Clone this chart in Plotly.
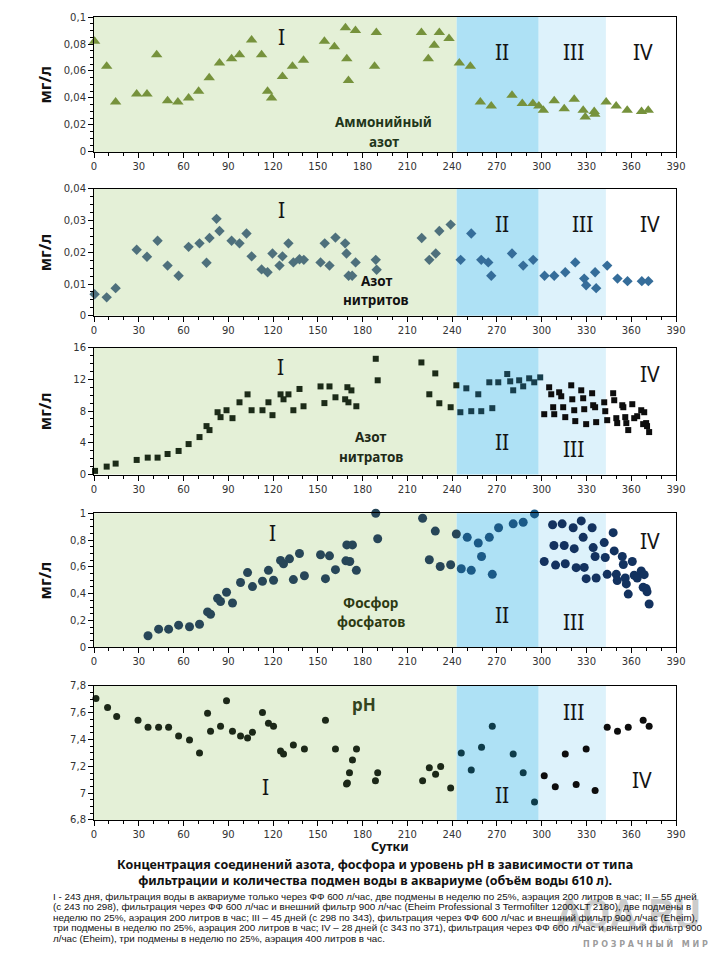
import plotly.graph_objects as go

# ---------------- data ----------------
NH4_DAYS = [0.4, 8.5, 14.5, 28.6, 35.5, 42, 49.3, 56.2, 63.4, 70.1, 77.2, 84.1, 92.2, 97.5, 105.6, 112.3, 116.3, 119,
            126.3, 133, 140.4, 154.4, 161.1, 168.5, 169.4, 170.5, 175.2, 188, 189.2, 219.4, 224, 228, 231.4, 237.9,
            244.8, 252.2, 258.9, 266.2, 280.1, 287, 294.1, 298.1, 301.1, 308.4, 315.1, 321.8, 327.8, 329.2, 335.2,
            335.6, 343.2, 349.9, 357.3, 366.9, 371.4]
NH4_VALS = [0.082, 0.0635, 0.037, 0.043, 0.043, 0.072, 0.038, 0.037, 0.040, 0.045, 0.055, 0.066, 0.069, 0.072, 0.083,
            0.072, 0.045, 0.040, 0.056, 0.0635, 0.068, 0.082, 0.078, 0.092, 0.069, 0.053, 0.090, 0.0635, 0.0885,
            0.0885, 0.069, 0.079, 0.0885, 0.084, 0.066, 0.0635, 0.037, 0.034, 0.042, 0.036, 0.036, 0.034, 0.031,
            0.038, 0.032, 0.039, 0.031, 0.026, 0.030, 0.028, 0.037, 0.034, 0.031, 0.030, 0.031]

NO2_DAYS = [0.4, 8.5, 14.5, 28.6, 35.5, 42.6, 49.3, 56.7, 63.4, 70.7, 75.4, 77.4, 82.1, 84.1, 92.2, 97.5, 102.2, 105.6,
            112.3, 116.3, 119.6, 124.3, 126.3, 130.3, 133.6, 137.7, 140.6, 151.8, 154.6, 157.8, 161.8, 168.3, 169.2,
            170.6, 173.0, 175.3, 188.8, 189.4, 219.6, 224.7, 229, 231.4, 239, 245.7, 252.8, 259.5, 264.2, 266.2,
            280.1, 287.6, 294.3, 301.9, 308.4, 315.8, 322.5, 328.5, 329.8, 335.8, 336.5, 343.9, 350.8, 357.5, 367.1,
            371.5]
NO2_VALS = [0.0068, 0.0058, 0.0087, 0.0208, 0.0186, 0.0236, 0.0158, 0.0126, 0.0217, 0.0228, 0.0167, 0.0245, 0.0305,
            0.0267, 0.0236, 0.0228, 0.0259, 0.0187, 0.0146, 0.0137, 0.0196, 0.0158, 0.0187, 0.0228, 0.0168, 0.0178,
            0.0176, 0.0168, 0.0228, 0.0158, 0.0246, 0.0228, 0.0196, 0.0126, 0.0126, 0.0168, 0.0176, 0.0145, 0.0245,
            0.0176, 0.0196, 0.0267, 0.0287, 0.0176, 0.0259, 0.0176, 0.0168, 0.0126, 0.0196, 0.0158, 0.0176, 0.0126,
            0.0126, 0.0137, 0.0168, 0.0117, 0.0096, 0.0137, 0.0087, 0.0158, 0.0117, 0.0109, 0.0109, 0.0109]

NO3_DAYS = [0.7, 8.5, 14.5, 28.6, 36, 42.6, 49.3, 56.7, 63.4, 70.7, 75.4, 77.4, 82.8, 84.8, 88.8, 92.8, 97.5, 102.9,
            105.6, 112.9, 116.9, 119.6, 125, 127, 130.3, 133.6, 137.7, 140.4, 151.8, 154.4, 157.8, 161.8, 168.3,
            169.8, 170.5, 172.5, 175.8, 188.8, 190.1, 219.4, 224.7, 228.7, 231.4, 239, 242.8, 245.5, 249.5, 252.8,
            257.5, 259.5, 264.9, 266.9, 270.9, 276.9, 278.9, 280.9, 284.9, 287.6, 291.6, 295, 299, 301.7, 305, 306.4,
            307.7, 308.4, 311.7, 313.1, 314.4, 315.8, 319.8, 320.5, 321.8, 322.5, 326.5, 327.8, 328.5, 329.8, 333.8,
            334.5, 335.8, 336.5, 341.9, 342.6, 343.9, 347.9, 348.6, 350, 350.6, 354, 354.7, 356, 356.7, 358, 360.7,
            362, 364, 366.7, 368, 368.7, 370, 370.6, 372]
NO3_VALS = [0.46, 1.0, 1.38, 1.84, 2.13, 2.13, 2.59, 2.97, 3.84, 4.72, 6.1, 5.6, 7.85, 7.23, 8.1, 7.1, 9.1, 10.1, 8.1,
            8.1, 9.1, 7.48, 10.1, 9.48, 10.1, 8.1, 10.78, 8.6, 11.1, 9.0, 11.1, 9.73, 9.48, 11.0, 9.1, 10.6, 8.6,
            14.58, 11.87, 14.12, 10.11, 12.74, 8.98, 8.48, 11.24, 7.85, 10.86, 7.98, 10.11, 7.98, 11.62, 8.36, 11.62,
            12.66, 11.74, 10.61, 11.87, 11.11, 12.12, 11.62, 12.24, 7.6, 10.99, 10.11, 8.48, 7.6, 10.36, 9.86, 8.48,
            7.23, 11.24, 9.48, 8.1, 6.73, 10.61, 9.61, 8.23, 6.35, 10.24, 8.73, 8.48, 6.6, 9.1, 7.98, 6.85, 10.24,
            9.36, 7.1, 6.48, 8.73, 8.48, 7.23, 6.48, 5.6, 8.86, 7.1, 7.35, 8.1, 6.35, 7.85, 6.48, 6.1, 5.35]

PO4_DAYS = [36.2, 43.3, 50, 56.7, 64, 70.7, 76.1, 78.1, 82.8, 84.8, 88.8, 92.8, 98.2, 102.9, 106.2, 112.9, 116.9,
            120.3, 125, 127, 131, 133.6, 137.7, 141, 151.8, 155.1, 157.8, 161.8, 168.8, 169.4, 171.4, 173.2, 175.8,
            188.8, 190.1, 220.2, 224.7, 228.7, 232, 239, 242.8, 246.1, 250.1, 252.8, 257.5, 259.7, 264.9, 266.9,
            271.1, 280.9, 287.6, 295.2, 301.7, 307.3, 308.2, 309.3, 313.7, 315.1, 315.8, 321.1, 321.8, 323.1, 326.5,
            327.8, 328.5, 329.8, 333.8, 334.5, 335.8, 336.5, 341.9, 342.6, 343.9, 347.9, 348.6, 350, 350.6, 354,
            354.7, 356, 356.7, 358, 360.7, 362, 364, 366.7, 368, 368.7, 370, 370.6, 372]
PO4_VALS = [0.086, 0.135, 0.135, 0.165, 0.153, 0.172, 0.264, 0.246, 0.365, 0.342, 0.411, 0.33, 0.483, 0.557, 0.453,
            0.493, 0.574, 0.5, 0.648, 0.623, 0.66, 0.505, 0.70, 0.534, 0.69, 0.512, 0.682, 0.579, 0.645, 0.764, 0.64,
            0.764, 0.574, 1.0, 0.81, 0.963, 0.653, 0.867, 0.603, 0.616, 0.845, 0.586, 0.82, 0.574, 0.778, 0.677,
            0.82, 0.544, 0.892, 0.921, 0.933, 0.995, 0.64, 0.914, 0.759, 0.613, 0.921, 0.759, 0.623, 0.892, 0.736,
            0.594, 0.943, 0.82, 0.596, 0.512, 0.892, 0.744, 0.677, 0.517, 0.781, 0.67, 0.544, 0.855, 0.719, 0.544,
            0.498, 0.677, 0.618, 0.517, 0.473, 0.397, 0.64, 0.537, 0.517, 0.569, 0.448, 0.542, 0.438, 0.414, 0.323]

PH_DAYS = [1.3, 9.1, 15.2, 29.5, 36.2, 43.3, 50, 56.7, 64, 70.7, 76.1, 78.1, 84.8, 88.8, 92.8, 98.2, 102.9, 106.2,
           112.9, 116.9, 120.3, 125, 127, 133.6, 141, 155.1, 161.8, 169.2, 169.8, 171.2, 173.2, 175.9, 188.6, 190.1,
           220.2, 224.7, 228.9, 232.3, 239, 246.1, 252.8, 259.7, 266.9, 280.9, 287.6, 295.2, 301.7, 309.1, 315.8,
           323.1, 329.8, 335.8, 343.9, 350.8, 358, 368, 372]
PH_VALS = [7.706, 7.64, 7.573, 7.544, 7.492, 7.492, 7.492, 7.426, 7.396, 7.3, 7.596, 7.463, 7.5, 7.69, 7.463, 7.426,
           7.411, 7.455, 7.603, 7.522, 7.5, 7.315, 7.293, 7.36, 7.33, 7.544, 7.33, 7.068, 7.076, 7.152, 7.248, 7.33,
           7.093, 7.152, 7.093, 7.189, 7.142, 7.2, 7.039, 7.3, 7.174, 7.342, 7.5, 7.293, 7.152, 6.935, 7.13, 7.049,
           7.293, 7.064, 7.33, 7.02, 7.492, 7.463, 7.492, 7.544, 7.5]

PERIOD_STARTS = [0, 243, 298, 343]        # I, II, III, IV
PERIOD_END = 390
PERIOD_NAMES = ["I", "II", "III", "IV"]
X_TICKS = list(range(0, 391, 30))

# roman numeral positions (day, value) per panel
ROMAN_POS = [
    [(125.4, 0.085), (273.6, 0.074), (321.5, 0.074), (367.7, 0.074)],
    [(125.4, 0.0332), (273.6, 0.0288), (327.1, 0.0288), (372.9, 0.0288)],
    [(125.2, 13.5), (273.6, 4.1), (321.6, 3.26), (372.9, 12.7)],
    [(119.6, 0.852), (273.6, 0.241), (321.6, 0.192), (372.9, 0.796)],
    [(115.2, 7.046), (273.6, 6.985), (321.6, 7.605), (367.3, 7.096)],
]
# series name labels: (text, day, value)
NAME_LABELS = [
    [("Аммонийный", 194.3, 0.022), ("азот", 194.3, 0.0074)],
    [("Азот", 189.5, 0.0111), ("нитритов", 189.2, 0.005)],
    [("Азот", 185.4, 4.72), ("нитратов", 185.4, 2.21)],
    [("Фосфор", 185.4, 0.333), ("фосфатов", 185.4, 0.187)],
    [("pH", 180.9, 7.662)],
]

# ---------------- style ----------------
BG = ["#E4F0D7", "#AEE1F5", "#DDF2FB", "rgba(0,0,0,0)"]
PANELS = [
    dict(d=NH4_DAYS, v=NH4_VALS, sym="triangle-up", size=10, cols=["#76923C", "#76923C", "#76923C"],
         rng=[0, 0.1], dt=0.02, mdt=0.005),
    dict(d=NO2_DAYS, v=NO2_VALS, sym="diamond", size=8, cols=["#4E707C", "#356D9A", "#356D9A"],
         rng=[0, 0.04], dt=0.01, mdt=0.0025),
    dict(d=NO3_DAYS, v=NO3_VALS, sym="square", size=6, cols=["#1C2B18", "#173E4C", "#0D0D0D"],
         rng=[0, 16], dt=4, mdt=1),
    dict(d=PO4_DAYS, v=PO4_VALS, sym="circle", size=9, cols=["#274658", "#1B5A87", "#13325F"],
         rng=[0, 1], dt=0.2, mdt=0.05),
    dict(d=PH_DAYS, v=PH_VALS, sym="circle", size=7, cols=["#1C2818", "#0E3C4A", "#0D0D0D"],
         rng=[6.8, 7.8], dt=0.2, mdt=0.05),
]
DOMAINS = [(0.8319, 1.0), (0.6279, 0.7862), (0.4302, 0.5884), (0.2151, 0.3820), (0.0, 0.1669)]
LABEL_COLORS = ["#22361A", "#111111", "#1E2A18", "#2D3A12", "#33431E"]

TICKFONT = dict(family="DejaVu Sans", size=10, color="#333333")


def period_of(day):
    if day < 243:
        return 0
    if day < 300:
        return 1
    return 2


def py(pix):
    """page pixel row -> paper y (plot area spans rows 11..820)"""
    return (820 - pix) / 809


def px(pix):
    """page pixel column -> paper x (plot area spans columns 94..676)"""
    return (pix - 94) / 582


fig = go.Figure()
layout = {}
shapes = []
annotations = []

# watermark (drawn first so that the caption text sits on top of it)
annotations.append(dict(x=px(703), y=py(915), xref="paper", yref="paper", text="<b>AQA.RU</b>",
                        xanchor="right", yanchor="middle", showarrow=False,
                        font=dict(family="Roboto", size=40, color="rgba(120,120,120,0.4)")))
annotations.append(dict(x=px(710), y=py(944), xref="paper", yref="paper",
                        text="<b>П Р О З Р А Ч Н Ы Й   М И Р</b>", xanchor="right", yanchor="middle",
                        showarrow=False, font=dict(family="DejaVu Sans", size=8, color="rgba(130,130,130,0.8)")))

for i, p in enumerate(PANELS, start=1):
    xs = "x" if i == 1 else f"x{i}"
    ys = "y" if i == 1 else f"y{i}"
    for k in range(3):
        dd = [d for d in p["d"] if period_of(d) == k]
        vv = [v for d, v in zip(p["d"], p["v"]) if period_of(d) == k]
        fig.add_trace(go.Scatter(x=dd, y=vv, mode="markers", xaxis=xs, yaxis=ys, showlegend=False,
                                 cliponaxis=False,
                                 marker=dict(symbol=p["sym"], size=p["size"], color=p["cols"][k],
                                             line=dict(width=0))))
    xname = "xaxis" if i == 1 else f"xaxis{i}"
    yname = "yaxis" if i == 1 else f"yaxis{i}"
    layout[xname] = dict(domain=[0, 1], anchor=ys, range=[0, 390], tickvals=X_TICKS,
                         ticks="outside", ticklen=5, tickcolor="black", showline=True, linecolor="black",
                         linewidth=1, mirror=True, showgrid=False, zeroline=False, tickfont=TICKFONT,
                         minor=dict(dtick=10, tick0=0, ticks="outside", ticklen=3, tickcolor="black"))
    layout[yname] = dict(domain=list(DOMAINS[i - 1]), anchor=xs, range=p["rng"], dtick=p["dt"], tick0=p["rng"][0],
                         ticks="outside", ticklen=5, tickcolor="black", showline=True, linecolor="black",
                         linewidth=1, mirror=True, showgrid=False, zeroline=False, tickfont=TICKFONT,
                         minor=dict(dtick=p["mdt"], ticks="outside", ticklen=3, tickcolor="black"))
    bounds = PERIOD_STARTS + [PERIOD_END]
    for k in range(4):
        shapes.append(dict(type="rect", xref=xs, yref=f"{ys} domain", x0=bounds[k], x1=bounds[k + 1], y0=0, y1=1,
                           fillcolor=BG[k], line=dict(width=0), layer="below"))
    for k, (dx, dy) in enumerate(ROMAN_POS[i - 1]):
        annotations.append(dict(x=dx, y=dy, xref=xs, yref=ys, text=PERIOD_NAMES[k], showarrow=False,
                                font=dict(family="Noto Sans", size=21, color="#141414")))
    for txt, lx, ly in NAME_LABELS[i - 1]:
        annotations.append(dict(x=lx, y=ly, xref=xs, yref=ys, text=f"<b>{txt}</b>", showarrow=False,
                                font=dict(family="Noto Sans", size=17 if i == 5 else 13.5,
                                          color=LABEL_COLORS[i - 1])))
    if i < 5:
        annotations.append(dict(x=-0.084, y=(DOMAINS[i - 1][0] + DOMAINS[i - 1][1]) / 2, xref="paper",
                                yref="paper", text="<b>мг/л</b>", textangle=-90, showarrow=False,
                                xanchor="center", yanchor="middle",
                                font=dict(family="Noto Sans", size=16, color="#111111")))

annotations.append(dict(x=px(390), y=py(847), xref="paper", yref="paper", text="<b>Сутки</b>", showarrow=False,
                        xanchor="center", yanchor="middle", borderpad=0,
                        font=dict(family="Noto Sans", size=12.5, color="#111111")))
TITLE_LINES = ["Концентрация соединений азота, фосфора и уровень pH в зависимости от типа",
               "фильтрации и количества подмен воды в аквариуме (объём воды 610 л)."]
annotations.append(dict(x=px(375), y=py(855), xref="paper", yref="paper",
                        text="<b>" + "<br>".join(TITLE_LINES) + "</b>", xanchor="center", yanchor="top",
                        borderpad=0, showarrow=False, font=dict(family="Noto Sans", size=12.5, color="#111111")))

CAPTION = [
    "I - 243 дня, фильтрация воды в аквариуме только через ФФ 600 л/час, две подмены в неделю по 25%, аэрация 200 литров в час; II – 55 дней",
    "(с 243 по 298), фильтрация через ФФ 600 л/час и внешний фильтр 900 л/час (Eheim Professional 3 Termofilter 1200XLT 2180), две подмены в",
    "неделю по 25%, аэрация 200 литров в час; III – 45 дней (с 298 по 343), фильтрация через ФФ 600 л/час и внешний фильтр 900 л/час (Eheim),",
    "три подмены в неделю по 25%, аэрация 200 литров в час; IV – 28 дней (с 343 по 371), фильтрация через ФФ 600 л/час и внешний фильтр 900",
    "л/час (Eheim), три подмены в неделю по 25%, аэрация 400 литров в час.",
]
for j, t in enumerate(CAPTION):
    annotations.append(dict(x=px(52), y=py(897 + 10.5 * j), xref="paper", yref="paper", text=t,
                            xanchor="left", yanchor="middle", showarrow=False, borderpad=0,
                            font=dict(family="Liberation Sans", size=9.8, color="#111111")))

# the page body adds an 8px offset, so the figure is 704x952 with margins shifted accordingly
fig.update_layout(width=704, height=952, margin=dict(l=86, r=36, t=3, b=140), paper_bgcolor="white",
                  plot_bgcolor="white", separators=", ", shapes=shapes, annotations=annotations, **layout)

fig.write_html("out.html")
